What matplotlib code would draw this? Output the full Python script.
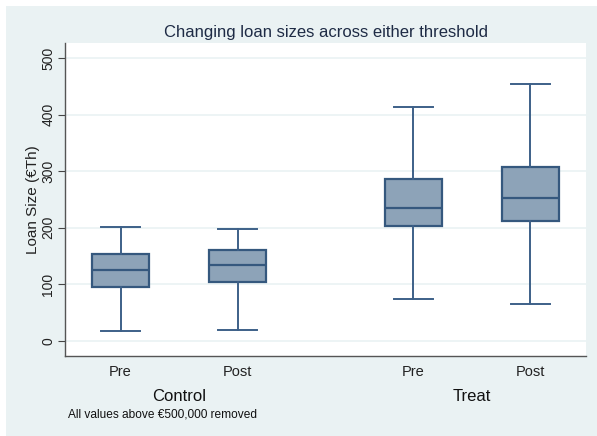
import matplotlib
matplotlib.use("Agg")
import matplotlib.pyplot as plt
from matplotlib.patches import Rectangle

plt.rcParams['font.family'] = ['Liberation Sans', 'DejaVu Sans']

# Loan size summaries (thousands of euro) by group and period
groups = ["Control", "Treat"]
periods = ["Pre", "Post"]
whisker_low = [18, 19, 74, 66]
q1 = [95, 105, 203, 212]
median = [126, 135, 235, 252]
q3 = [154, 160, 286, 307]
whisker_high = [202, 197, 414, 454]
positions = [0.0, 1.0, 2.5, 3.5]
yticks = [0, 100, 200, 300, 400, 500]

bg = "#EAF2F3"
fill = "#8DA3B8"
edge = "#35587E"
whisker = "#3D6088"

fig = plt.figure(figsize=(5.97, 4.36), dpi=100)
fig.patch.set_facecolor("white")
fig.patches.append(Rectangle((6 / 597, 0), 1 - 6 / 597, 1 - 6 / 436,
                             transform=fig.transFigure, facecolor=bg,
                             edgecolor="none", zorder=-10))

W, H = 597, 436
ax = fig.add_axes([65 / W, (H - 356) / H, 521 / W, (356 - 43) / H])
ax.set_facecolor("white")

stats = []
for i in range(len(median)):
    stats.append(dict(med=median[i], q1=q1[i], q3=q3[i],
                      whislo=whisker_low[i], whishi=whisker_high[i], fliers=[]))

ax.bxp(stats, positions=positions, widths=0.49, patch_artist=True,
       showfliers=False, manage_ticks=False,
       boxprops=dict(facecolor=fill, edgecolor=edge, linewidth=1.6),
       medianprops=dict(color=edge, linewidth=1.6),
       whiskerprops=dict(color=whisker, linewidth=1.4),
       capprops=dict(color=whisker, linewidth=1.4),
       capwidths=0.33)

ax.set_xlim(-0.475, 3.975)
ax.set_ylim(-26.5, 526.5)
ax.set_yticks(yticks)
ax.set_yticklabels([str(t) for t in yticks], rotation=90, va="center",
                   fontsize=10, color="#222222")
ax.yaxis.grid(True, color=bg, linewidth=1.2)
ax.set_axisbelow(True)
ax.tick_params(axis="y", length=5, width=0.8, color="#444444", pad=2)

ax.set_xticks(positions)
ax.set_xticklabels(periods * len(groups), fontsize=10.5, color="#222222")
ax.tick_params(axis="x", length=0, pad=6.5)

for s in ["top", "right"]:
    ax.spines[s].set_visible(False)
for s in ["left", "bottom"]:
    ax.spines[s].set_color("#555555")
    ax.spines[s].set_linewidth(1.0)

ax.set_ylabel("Loan Size (€Th)", fontsize=11, color="#222222")
ax.yaxis.set_label_coords(-25.5 / 521, 0.5)

# Group labels centred under each pair of boxes
for g, (a, b) in zip(groups, [(0, 1), (2, 3)]):
    xc = (positions[a] + positions[b]) / 2
    ax.annotate(g, xy=(xc, 0), xycoords=("data", "axes fraction"),
                xytext=(0, -29.3), textcoords="offset points",
                ha="center", va="center", fontsize=12, color="#111111")

fig.text(68 / W, 1 - 414 / H, "All values above €500,000 removed",
         fontsize=8.6, color="#111111", ha="left", va="center")
fig.text(325.5 / W, 1 - 32 / H, "Changing loan sizes across either threshold",
         fontsize=12, color="#1E2B45", ha="center", va="center")

fig.savefig("out.png", dpi=100)
